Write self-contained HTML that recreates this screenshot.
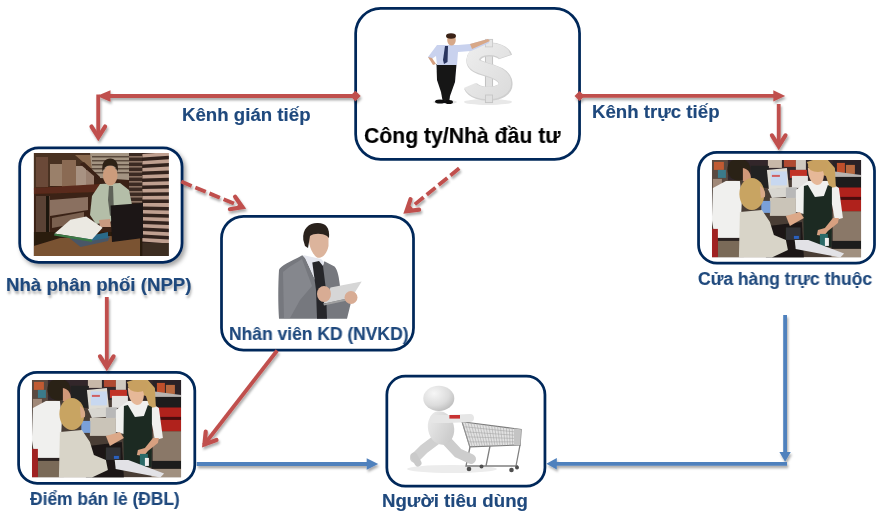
<!DOCTYPE html>
<html><head><meta charset="utf-8">
<style>
html,body{margin:0;padding:0;background:#fff;}
body{width:883px;height:516px;overflow:hidden;position:relative;font-family:"Liberation Sans",sans-serif;}
.box{position:absolute;box-sizing:border-box;border:2.75px solid #002060;background:#fff;}
.t{position:absolute;white-space:nowrap;font-weight:bold;color:#1F497D;font-size:18.67px;line-height:1;will-change:transform;-webkit-text-stroke:0.15px currentColor;}
.lbl{text-shadow:1px 2.5px 2.5px rgba(0,0,0,0.3);}
svg{position:absolute;overflow:visible;}
</style></head><body>

<!-- boxes -->
<svg width="883" height="516" style="left:0;top:0;">
<defs><filter id="bsh" x="-10%" y="-10%" width="130%" height="130%"><feDropShadow dx="2.5" dy="3" stdDeviation="2" flood-color="#000" flood-opacity="0.35"/></filter></defs>
<rect x="355.65" y="8.35" width="223.90" height="151.00" rx="25" fill="#fff" stroke="#00285a" stroke-width="2.75"/>
<rect x="19.7" y="147.75" width="162.35" height="114.55" rx="19" fill="#fff" stroke="#00285a" stroke-width="2.75" filter="url(#bsh)"/>
<rect x="221.5" y="216.25" width="192.00" height="133.75" rx="22" fill="#fff" stroke="#00285a" stroke-width="2.75"/>
<rect x="698.55" y="152.3" width="175.95" height="110.85" rx="18.5" fill="#fff" stroke="#00285a" stroke-width="2.75"/>
<rect x="18.6" y="372.3" width="176.20" height="110.95" rx="18.5" fill="#fff" stroke="#00285a" stroke-width="2.75"/>
<rect x="386.85" y="376.2" width="158.10" height="109.95" rx="18.5" fill="#fff" stroke="#00285a" stroke-width="2.75"/>
</svg>

<!-- photos -->
<svg width="883" height="516" style="left:0;top:0;">
<defs>
<filter id="bl" x="-5%" y="-5%" width="110%" height="110%"><feGaussianBlur stdDeviation="0.7"/></filter>
<filter id="bl2" x="-20%" y="-20%" width="140%" height="140%"><feGaussianBlur stdDeviation="1.6"/></filter>
<clipPath id="cpNPP"><rect x="33.7" y="153" width="135.2" height="103.1"/></clipPath>
<clipPath id="cpCHK"><rect x="0" y="0" width="149.3" height="97.5"/></clipPath>
<radialGradient id="gHead" cx="0.35" cy="0.3" r="0.8"><stop offset="0" stop-color="#f6f6f6"/><stop offset="0.6" stop-color="#dcdcdc"/><stop offset="1" stop-color="#b8b8b8"/></radialGradient>
<linearGradient id="gBody" x1="0" y1="0" x2="1" y2="1"><stop offset="0" stop-color="#eeeeee"/><stop offset="1" stop-color="#c4c4c4"/></linearGradient>
<linearGradient id="gDol" x1="0" y1="0" x2="1" y2="1"><stop offset="0" stop-color="#ececec"/><stop offset="1" stop-color="#dddddd"/></linearGradient>

<g id="checkout">
 <rect x="0" y="0" width="149.3" height="97.5" fill="#4a3e36"/>
 <!-- top store strip -->
 <rect x="0" y="0" width="149.3" height="20" fill="#30262a"/>
 <rect x="0" y="0" width="16" height="30" fill="#5a4a40"/>
 <rect x="2" y="2" width="10" height="8" fill="#c05a30"/>
 <rect x="6" y="10" width="8" height="8" fill="#3a7a8a"/>
 <rect x="1" y="19" width="9" height="9" fill="#a08878"/>
 <rect x="56" y="0" width="14" height="8" fill="#c8b8a8"/>
 <rect x="72" y="0" width="12" height="7" fill="#b04a30"/>
 <rect x="84" y="0" width="10" height="10" fill="#d0c8c0"/>
 <rect x="78" y="10" width="17" height="8" fill="#c03028"/>
 <rect x="80" y="16" width="16" height="12" fill="#e4e2e0"/>
 <!-- right side -->
 <rect x="121" y="0" width="28.3" height="17" fill="#2a2226"/>
 <rect x="125" y="3" width="8" height="10" fill="#c0502c"/>
 <rect x="134" y="5" width="9" height="9" fill="#b86a40"/>
 <polygon points="121,11.4 149.3,15 149.3,19 121,17" fill="#b8b4b0"/>
 <rect x="121" y="17" width="28.3" height="11" fill="#1c1a1c"/>
 <rect x="121" y="27.6" width="28.3" height="24" fill="#b0221e"/>
 <rect x="121" y="37" width="28.3" height="3" fill="#4a1010"/>
 <rect x="121" y="51.5" width="28.3" height="30" fill="#8a7868"/>
 <rect x="119.6" y="81" width="29.7" height="8" fill="#1e1c1c"/>
 <rect x="119.6" y="89" width="29.7" height="8.5" fill="#a09080"/>
 <!-- dark electronics behind monitor -->
 <rect x="39" y="6" width="18" height="22" fill="#222020"/>
 <!-- monitor -->
 <polygon points="55,10 75,8 77,28 57,29.5" fill="#dedcd4"/>
 <rect x="59" y="11.5" width="16" height="14" fill="#c8d8f0"/>
 <rect x="60" y="15" width="8" height="2" fill="#d06060"/>
 <polygon points="56,29 82,27 86,36 60,38" fill="#d8d6d0"/>
 <rect x="74" y="27.6" width="11" height="11" fill="#b8b8b8"/>
 <!-- register -->
 <rect x="58" y="38" width="26" height="18" fill="#cac4b8"/>
 <rect x="49.4" y="41" width="9" height="12" fill="#7aa0d8"/>
 <!-- dark bottom middle -->
 <polygon points="56,66 90,62 92,98 54,98" fill="#1c1816"/>
 <rect x="74" y="67.5" width="14.6" height="12.5" fill="#303236"/>
 <rect x="82" y="76" width="5" height="3" fill="#2a60c0"/>
 <!-- cashier -->
 <polygon points="84,30 96,21 116,21 127,28 131,58 123,60 120,44 92,54 84,52" fill="#f0f0ee"/>
 <polygon points="95,2 104,-1 116,0 123,8 124,27 118,28 114,16 100,12" fill="#c8a260"/>
 <path d="M96,8 C96,16 99,24 105,25 C110,25 112,20 112,14 L110,8 Z" fill="#e6b898"/>
 <ellipse cx="106" cy="6" rx="10" ry="6" fill="#c8a060"/>
 <polygon points="92,26 96,25 103,37 112,36 116,25 120,27 120,62 119.6,87 92,87 91.5,60" fill="#1c2c24"/>
 <polygon points="74,56 88,52 92,58 78,66" fill="#dca888"/>
 <polygon points="121,58 127,58 126,63 116,71 112,76 105,75 106,70 113,68" fill="#d8a080"/>
 <rect x="108" y="74" width="8" height="12" fill="#2a6a68"/>
 <rect x="113" y="78" width="4" height="8" fill="#f0f0f0"/>
 <!-- white counter -->
 <polygon points="82.8,80 96.4,80 132.2,93.6 128.4,97.5 83.8,89" fill="#e2e2e6"/>
 <!-- man left -->
 <polygon points="1,28 14,21 28,21 30,40 28,79 3,79 0,60" fill="#f0f0ee"/>
 <ellipse cx="27" cy="9.5" rx="11.5" ry="11" fill="#2a2018"/>
 <path d="M31,8 C36,9 39,13 39,18 C38,22 34,23 31,21 Z" fill="#d09878"/>
 <rect x="3" y="78" width="28" height="4" fill="#2a2420"/>
 <rect x="6" y="81" width="26" height="16.5" fill="#7a6a58"/>
 <rect x="0" y="69" width="6" height="28.5" fill="#a02420"/>
 <!-- woman -->
 <polygon points="28,52 50,50 58,62 62,75 74,80 76,90 60,97.5 27,97.5" fill="#d8d4c8"/>
 <ellipse cx="40" cy="34" rx="12.5" ry="16" fill="#c8a462"/>
 <path d="M48,26 C52,28 54,32 53,37 L49,38 Z" fill="#d8a888"/>
</g>
</defs>

<!-- Cong ty: man + dollar -->
<g filter="url(#bl)">
 <ellipse cx="488" cy="102" rx="24" ry="3" fill="#e8e8e8"/>
 <ellipse cx="445" cy="102" rx="12" ry="2" fill="#e4e4e4"/>
 <rect x="485.4" y="39.4" width="7.2" height="63.2" fill="#e0e0e0" stroke="#bdbdbd" stroke-width="0.9"/>
 <path d="M505.5,57 C502,47 476,46.5 473.5,59.5 C471,72 504,67.5 505.5,83 C507,96.5 475,97 470.5,86" fill="none" stroke="#cfcfcf" stroke-width="14" stroke-linecap="butt"/>
 <path d="M505.5,57 C502,47 476,46.5 473.5,59.5 C471,72 504,67.5 505.5,83 C507,96.5 475,97 470.5,86" fill="none" stroke="url(#gDol)" stroke-width="12.2" stroke-linecap="butt" transform="translate(-0.6,-0.6)"/>
 <rect x="485.4" y="39.4" width="7.2" height="7.5" fill="#e6e6e6" stroke="#c8c8c8" stroke-width="0.8"/>
 <rect x="485.4" y="95" width="7.2" height="7.6" fill="#e0e0e0" stroke="#c4c4c4" stroke-width="0.8"/>
 <!-- man -->
 <polygon points="436.5,64 456.5,64 455,82 450,96 449,103 443,103 441,92 437,80" fill="#141416"/>
 <ellipse cx="440" cy="101.5" rx="5" ry="2" fill="#101010"/>
 <ellipse cx="449" cy="102" rx="4" ry="2" fill="#101010"/>
 <polygon points="437,45 458,45 470,44 488,39 489,43 471,51 458,52 457,65 437,65 436,56 430,60 428,57" fill="#c9d2ee"/>
 <polygon points="428,57 432,58 436,64 433,65" fill="#d4a080"/>
 <polygon points="445,46 448,46 447.5,62 444,64 443,60" fill="#2a3660"/>
 <ellipse cx="451.5" cy="40" rx="4.3" ry="5.5" fill="#d6a888"/>
 <ellipse cx="451" cy="36" rx="5" ry="2.8" fill="#3a2418"/>
 <polygon points="470,44 488,39 490,41 472,49" fill="#d8a888"/>
</g>

<!-- NPP photo -->
<g clip-path="url(#cpNPP)">
 <g filter="url(#bl)">
 <rect x="33.7" y="153" width="135.2" height="103.1" fill="#3a2418"/>
 <polygon points="33.7,153 120,153 100,175 33.7,190" fill="#4a3020"/>
 <rect x="36" y="157" width="12" height="30" fill="#6a4a38"/>
 <rect x="50" y="164" width="14" height="22" fill="#9a806a"/>
 <rect x="62" y="160" width="14" height="28" fill="#8a6a52"/>
 <rect x="76" y="166" width="10" height="22" fill="#a89282"/>
 <rect x="86" y="170" width="8" height="18" fill="#9a8070"/>
 <polygon points="75,155 95,155 110,168 90,168" fill="#8a6a50"/>
 <polygon points="33.7,188 100,184 100,192 33.7,194" fill="#5a2a1a"/>
 <rect x="36" y="196" width="14" height="36" fill="#5a4234"/>
 <polygon points="50,200 88,197 88,210 50,216" fill="#8a7060"/>
 <polygon points="52,218 84,212 84,222 52,228" fill="#7a6050"/>
 <rect x="46" y="196" width="3" height="40" fill="#1e140e"/>
 <rect x="33.7" y="232" width="135.2" height="24.1" fill="#2a1a10"/>
 <polygon points="90,153 129,153 129,180 100,178 92,170" fill="#a49482"/><rect x="92" y="156" width="37" height="1.5" fill="#5a4a3c"/><rect x="92" y="160" width="37" height="1.5" fill="#5a4a3c"/><rect x="92" y="164" width="37" height="1.5" fill="#5a4a3c"/><rect x="92" y="168" width="37" height="1.5" fill="#5a4a3c"/><rect x="92" y="172" width="37" height="1.5" fill="#5a4a3c"/>
 <polygon points="80,164 84,162 100,177 99.8,181" fill="#3a2014"/>
 <rect x="129" y="153" width="13.4" height="50" fill="#3a2c24"/>
 <rect x="129" y="156" width="13.4" height="1.6" fill="#8a7060"/><rect x="129" y="161" width="13.4" height="1.6" fill="#8a7060"/><rect x="129" y="166" width="13.4" height="1.6" fill="#8a7060"/><rect x="129" y="171" width="13.4" height="1.6" fill="#8a7060"/><rect x="129" y="176" width="13.4" height="1.6" fill="#8a7060"/><rect x="129" y="181" width="13.4" height="1.6" fill="#8a7060"/><rect x="129" y="186" width="13.4" height="1.6" fill="#8a7060"/><rect x="129" y="191" width="13.4" height="1.6" fill="#8a7060"/><rect x="129" y="196" width="13.4" height="1.6" fill="#8a7060"/><rect x="129" y="201" width="13.4" height="1.6" fill="#8a7060"/>
 <rect x="142.4" y="153" width="26.6" height="91" fill="#30221c"/>
 <polygon points="142.4,154 169,152.0 169,155.8 142.4,157.6" fill="#c0a090"/><polygon points="142.4,161 169,159.3 169,163.10000000000002 142.4,164.6" fill="#c0a090"/><polygon points="142.4,168 169,166.6 169,170.4 142.4,171.6" fill="#c0a090"/><polygon points="142.4,175 169,173.9 169,177.70000000000002 142.4,178.6" fill="#c0a090"/><polygon points="142.4,182 169,181.2 169,185.0 142.4,185.6" fill="#c0a090"/><polygon points="142.4,189 169,188.5 169,192.3 142.4,192.6" fill="#c0a090"/><polygon points="142.4,196 169,195.8 169,199.60000000000002 142.4,199.6" fill="#c0a090"/><polygon points="142.4,203 169,203.1 169,206.9 142.4,206.6" fill="#c0a090"/><polygon points="142.4,210 169,210.4 169,214.20000000000002 142.4,213.6" fill="#c0a090"/><polygon points="142.4,217 169,217.7 169,221.5 142.4,220.6" fill="#c0a090"/><polygon points="142.4,224 169,225.0 169,228.8 142.4,227.6" fill="#c0a090"/><polygon points="142.4,231 169,232.3 169,236.10000000000002 142.4,234.6" fill="#c0a090"/><polygon points="142.4,238 169,239.6 169,243.4 142.4,241.6" fill="#c0a090"/>
 <rect x="142.4" y="243" width="26.6" height="13" fill="#3e2e22"/>
 <!-- table -->
 <polygon points="33.7,246 60,238 110,236 140,238 140,256.1 33.7,256.1" fill="#7a5232"/>
 <!-- man -->
 <polygon points="92,196 100,184 120,183 129,190 132,205 110,222 96,224 90,215" fill="#b4bea8"/>
 <polygon points="109,186 113,186 114,214 110,216 108,200" fill="#5e6258"/>
 <ellipse cx="110.2" cy="175.5" rx="7.3" ry="10" fill="#cc9c7c"/>
 <path d="M102.6,172 C101,162 105.5,158.5 110.3,158.5 C115,158.5 119,162 117.8,172 C116.5,167 114,165.5 110.3,165.5 C106.5,165.5 104,167 102.6,172 Z" fill="#2e2018"/>
 <polygon points="99,220 110,219 111,227 100,227" fill="#c89a80"/>
 <!-- papers -->
 <polygon points="68,237 110,236 108,241 80.6,247" fill="#4a5666"/>
 <polygon points="80,238 108,232 108,238 90,241" fill="#2a6a8a"/>
 <polygon points="54.5,233.4 70.4,219.8 86.2,216.4 102.6,227.7 91.9,239.6" fill="#ebe9e2"/>
 <polygon points="54.5,233.4 91.9,239.6 92,242 54,235.5" fill="#3a7a44"/>
 <!-- laptop -->
 <polygon points="110.6,205.5 143,203 143,238 112,242" fill="#1a1614"/>
 </g>
</g>

<!-- checkout photos -->
<g transform="translate(31.9,379.9)" clip-path="url(#cpCHK)"><use href="#checkout" filter="url(#bl)"/></g>
<g transform="translate(711.9,159.9)" clip-path="url(#cpCHK)"><use href="#checkout" filter="url(#bl)"/></g>

<!-- NVKD person -->
<g filter="url(#bl)">
 <path d="M279,270 C280,266 290,262 302.3,255.3 L305.3,258.3 L317,284 L324.4,261.3 L334.5,266.4 C338,270 339,278 340,286 L350.6,304 L347,318.8 L279,318.8 C278,305 278,285 279,270 Z" fill="#76787e"/>
 <path d="M283,272 C290,266 296,263 302,259 L312,286 L300,300 L290,318 L284,318 Z" fill="#85878d"/>
 <polygon points="303,255 321,259 324,262 317,284 305.3,258.3" fill="#e4e6ee"/>
 <polygon points="312.3,262.4 319,261 323,266 326,290 327,318.8 317,318.8 316,290" fill="#26272c"/>
 <path d="M308.5,232 C308,244 311,253 317,257.5 C322,259 327,254 328.5,246 L328.5,231 Z" fill="#dcb49c"/>
 <path d="M303.3,240 C302,228 310,222.5 318,223 C326,223 330,228 329,238 L327,236 C322,233 314,233 310,236 L308,248 L305,246 Z" fill="#2a221e"/>
 <polygon points="330.5,287.6 361.7,281.5 351.7,297.6 323.4,303.7" fill="#d6d6d6"/>
 <polygon points="323.4,303.7 351.7,297.6 352,299.5 324,305.5" fill="#a0a0a0"/>
 <ellipse cx="324" cy="294" rx="7" ry="8" fill="#d8ac94"/>
 <ellipse cx="351" cy="297.5" rx="6.5" ry="6.5" fill="#d8ac94"/>
</g>

<!-- NTD figure -->
<g filter="url(#bl)">
 <ellipse cx="452" cy="469" rx="45" ry="4" fill="#ececec"/>
 <!-- cart -->
 <polygon points="462,421.7 521.1,429.4 520.2,444.9 469.8,446.9" fill="#e2e2e2" stroke="#7a7a7a" stroke-width="1.1"/>
 <path d="M462.0,421.7 L469.8,446.9 M465.0,422.1 L472.3,446.8 M467.9,422.5 L474.8,446.7 M470.9,422.9 L477.4,446.6 M473.8,423.2 L479.9,446.5 M476.8,423.6 L482.4,446.4 M479.7,424.0 L484.9,446.3 M482.7,424.4 L487.4,446.2 M485.6,424.8 L490.0,446.1 M488.6,425.2 L492.5,446.0 M491.6,425.5 L495.0,445.9 M494.5,425.9 L497.5,445.8 M497.5,426.3 L500.0,445.7 M500.4,426.7 L502.6,445.6 M503.4,427.1 L505.1,445.5 M506.3,427.5 L507.6,445.4 M509.3,427.9 L510.1,445.3 M512.2,428.2 L512.6,445.2 M515.2,428.6 L515.2,445.1 M518.1,429.0 L517.7,445.0 M521.1,429.4 L520.2,444.9 M463.6,426.7 L520.9,432.5 M465.1,431.8 L520.7,435.6 M466.7,436.8 L520.6,438.7 M468.2,441.9 L520.4,441.8 " stroke="#a4a4a4" stroke-width="0.55" fill="none"/>
 <polygon points="514,428.5 521.1,429.4 520.2,444.9 514,445" fill="#c4c4c4"/>
 <path d="M470,447 L466,466 L518,466 M490,446 L486,466 M520,445 L516,466" stroke="#808080" stroke-width="1.3" fill="none"/>
 <path d="M462,421.7 L458,417" stroke="#707070" stroke-width="1.5"/>
 <circle cx="469" cy="469" r="2.3" fill="#505050"/>
 <circle cx="481.5" cy="466.5" r="2" fill="#505050"/>
 <circle cx="511.5" cy="470" r="2.3" fill="#505050"/>
 <circle cx="517" cy="467.5" r="2" fill="#505050"/>
 <!-- figure -->
 <path d="M436,440 L424,449 L415,458" fill="none" stroke="#d0d0d0" stroke-width="10" stroke-linecap="round" stroke-linejoin="round"/>
 <path d="M414,456 L418,463" fill="none" stroke="#cacaca" stroke-width="7" stroke-linecap="round"/>
 <path d="M444,438 L458,453 L471,459" fill="none" stroke="#cdcdcd" stroke-width="10" stroke-linecap="round" stroke-linejoin="round"/>
 <ellipse cx="441" cy="428" rx="13" ry="17" transform="rotate(-12 441 428)" fill="url(#gBody)"/>
 <path d="M434,419 L448,419 L470,418" fill="none" stroke="#e6e6e6" stroke-width="8" stroke-linecap="round"/>
 <rect x="449.4" y="415" width="10.6" height="3.6" fill="#c83030"/>
 <ellipse cx="438.8" cy="398.4" rx="15.5" ry="12.6" fill="url(#gHead)"/>
</g>
</svg>


<!-- arrows -->
<svg width="883" height="516" style="left:0;top:0;">
<defs><filter id="sh" x="-20%" y="-20%" width="140%" height="140%"><feDropShadow dx="1.2" dy="2.4" stdDeviation="1.3" flood-color="#000" flood-opacity="0.33"/></filter></defs>
<g filter="url(#sh)">
<line x1="355.4" y1="96" x2="108" y2="96" stroke="#C0504D" stroke-width="3.8" stroke-linecap="butt"/>
<polygon points="96.8,96 110.5,90.3 110.5,101.7" fill="#C0504D"/>
<polygon points="350.09999999999997,96 355.4,90.7 360.7,96 355.4,101.3" fill="#C0504D"/>
<line x1="98.2" y1="94.5" x2="98.2" y2="136" stroke="#C0504D" stroke-width="3.8" stroke-linecap="butt"/>
<polyline points="105.08,126.54 98.3,137.4 91.52,126.54" fill="none" stroke="#C0504D" stroke-width="4.2" stroke-linecap="round" stroke-linejoin="miter" stroke-miterlimit="10"/>
<line x1="579.5" y1="95.9" x2="775" y2="95.9" stroke="#C0504D" stroke-width="3.8" stroke-linecap="butt"/>
<polygon points="785.2,95.9 773.3,90.2 773.3,101.6" fill="#C0504D"/>
<polygon points="574.5,95.9 579.5,90.9 584.5,95.9 579.5,100.9" fill="#C0504D"/>
<line x1="778.7" y1="104" x2="778.7" y2="145" stroke="#C0504D" stroke-width="3.8" stroke-linecap="butt"/>
<polyline points="785.48,135.34 778.7,146.2 771.92,135.34" fill="none" stroke="#C0504D" stroke-width="4.2" stroke-linecap="round" stroke-linejoin="miter" stroke-miterlimit="10"/>
<line x1="106.8" y1="297" x2="106.8" y2="366" stroke="#C0504D" stroke-width="3.8" stroke-linecap="butt"/>
<polyline points="113.58,356.34 106.8,367.2 100.02,356.34" fill="none" stroke="#C0504D" stroke-width="4.2" stroke-linecap="round" stroke-linejoin="miter" stroke-miterlimit="10"/>
<line x1="277.2" y1="350.5" x2="203.73" y2="445.22" stroke="#C0504D" stroke-width="3.8" stroke-linecap="butt"/>
<polyline points="216.46,440.01 204.45,444.44 205.73,431.7" fill="none" stroke="#C0504D" stroke-width="4.2" stroke-linecap="round" stroke-linejoin="miter" stroke-miterlimit="10"/>
<line x1="181.2" y1="181.6" x2="242.73" y2="207.25" stroke="#C0504D" stroke-width="3.8" stroke-linecap="butt" stroke-dasharray="11.3 4"/>
<polyline points="235.1,196.72 242.51,207.16 229.88,209.24" fill="none" stroke="#C0504D" stroke-width="4.2" stroke-linecap="round" stroke-linejoin="miter" stroke-miterlimit="10"/>
<line x1="459.2" y1="168.3" x2="406.33" y2="211.31" stroke="#C0504D" stroke-width="3.8" stroke-linecap="butt" stroke-dasharray="11.3 4"/>
<polyline points="419.1,209.68 406.4,211.27 410.54,199.16" fill="none" stroke="#C0504D" stroke-width="4.2" stroke-linecap="round" stroke-linejoin="miter" stroke-miterlimit="10"/>
<line x1="196.7" y1="464" x2="368" y2="464" stroke="#4F81BD" stroke-width="3.8" stroke-linecap="butt"/>
<polygon points="378.2,464 366.7,458.3 366.7,469.7" fill="#4F81BD"/>
<line x1="785.1" y1="315" x2="785.1" y2="455" stroke="#4F81BD" stroke-width="3.8" stroke-linecap="butt"/>
<polygon points="785.1,461.8 779.4,452 790.8,452" fill="#4F81BD"/>
<line x1="787" y1="463.9" x2="555" y2="463.9" stroke="#4F81BD" stroke-width="3.8" stroke-linecap="butt"/>
<polygon points="546.3,463.8 556.8,458.1 556.8,469.5" fill="#4F81BD"/>
</g>
</svg>

<!-- texts -->
<div class="t" style="left:181.6px;top:106px;">Kênh gián tiếp</div>
<div class="t" style="left:591.6px;top:103.3px;">Kênh trực tiếp</div>
<div class="t" style="left:363.5px;top:124.6px;color:#000;font-size:22.2px;transform:scaleX(0.955);transform-origin:0 0;">Công ty/Nhà đầu tư</div>
<div class="t lbl" style="left:5.6px;top:276px;">Nhà phân phối (NPP)</div>
<div class="t" style="left:229.4px;top:326px;font-size:17.7px;transform:scaleX(0.987);transform-origin:0 0;">Nhân viên KD (NVKD)</div>
<div class="t" style="left:698.4px;top:271.2px;font-size:17.6px;transform:scaleX(0.995);transform-origin:0 0;">Cửa hàng trực thuộc</div>
<div class="t" style="left:30.2px;top:490.9px;font-size:17.9px;transform:scaleX(0.972);transform-origin:0 0;">Điểm bán lẻ (ĐBL)</div>
<div class="t" style="left:382px;top:491.6px;font-size:18.67px;">Người tiêu dùng</div>

</body></html>
